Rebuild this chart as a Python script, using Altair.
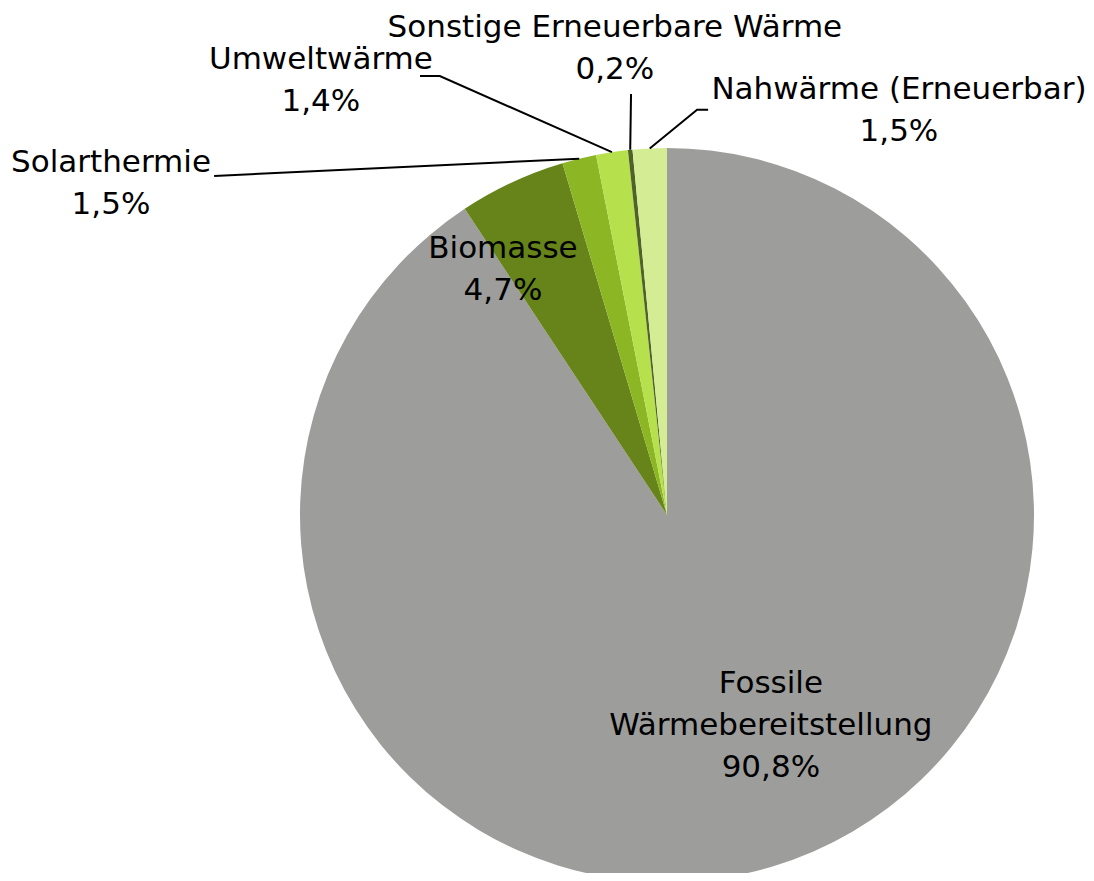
import math
import altair as alt
import pandas as pd

# ---- data ----
categories = ["Fossile Wärmebereitstellung", "Biomasse", "Solarthermie",
              "Umweltwärme", "Sonstige Erneuerbare Wärme", "Nahwärme (Erneuerbar)"]
values = [90.8, 4.7, 1.5, 1.4, 0.2, 1.5]
value_labels = ["90,8%", "4,7%", "1,5%", "1,4%", "0,2%", "1,5%"]
label_lines = [["Fossile", "Wärmebereitstellung"], ["Biomasse"], ["Solarthermie"],
               ["Umweltwärme"], ["Sonstige Erneuerbare Wärme"], ["Nahwärme (Erneuerbar)"]]
colors = ["#9d9d9c", "#668419", "#8cb623", "#b6e04c", "#4f6228", "#d4ec94"]

# ---- layout (in pie-radius units, relative to pie centre; y of first text line) ----
W, H = 1078, 865
CX, CY, R = 659, 507, 367
label_pos = [(0.283, -0.4605), (-0.447, 0.7248), (-1.515, 0.959),
             (-0.943, 1.2398), (-0.142, 1.328), (0.632, 1.158)]
# leader line bends (outside point(s)), None = no leader
leader_bends = [None, None, [(-1.234, 0.924)], [(-0.619, 1.196), (-0.673, 1.196)],
                [(-0.098, 1.147)], [(0.082, 1.104), (0.112, 1.104)]]

total = sum(values)
pie_df = pd.DataFrame({"cat": categories, "val": values, "idx": range(len(values))})

# labels
lab_rows = []
for i, cat in enumerate(categories):
    lines = label_lines[i] + [value_labels[i]]
    lab_rows.append({"cat": cat, "u": label_pos[i][0], "v": label_pos[i][1],
                     "txt": "\n".join(lines)})
lab_df = pd.DataFrame(lab_rows)

# leader lines: start at pie edge at slice mid-angle
line_rows = []
cum = 0.0
for i, cat in enumerate(categories):
    mid = 2 * math.pi * (cum + values[i] / 2) / total
    cum += values[i]
    if leader_bends[i] is None:
        continue
    pts = [(math.sin(mid), math.cos(mid))] + leader_bends[i]
    for k, (u, v) in enumerate(pts):
        line_rows.append({"cat": cat, "k": k, "u": u, "v": v})
line_df = pd.DataFrame(line_rows)

xdom = [-CX / R, (W - CX) / R]
ydom = [-(H - CY) / R, CY / R]
xs = alt.Scale(domain=xdom, nice=False, zero=False)
ys = alt.Scale(domain=ydom, nice=False, zero=False)

pie = alt.Chart(pie_df).mark_arc(outerRadius=R, stroke=None).encode(
    theta=alt.Theta("val:Q", stack=True),
    order=alt.Order("idx:Q"),
    color=alt.Color("cat:N", scale=alt.Scale(domain=categories, range=colors), legend=None),
    x=alt.value(CX),
    y=alt.value(CY),
)

leaders = alt.Chart(line_df).mark_line(color="black", strokeWidth=2).encode(
    x=alt.X("u:Q", scale=xs, axis=None),
    y=alt.Y("v:Q", scale=ys, axis=None),
    detail="cat:N",
    order="k:Q",
)

labels = alt.Chart(lab_df).mark_text(
    font="DejaVu Sans", fontSize=31, color="black", align="center",
    baseline="middle", lineBreak="\n", lineHeight=42,
).encode(
    x=alt.X("u:Q", scale=xs, axis=None),
    y=alt.Y("v:Q", scale=ys, axis=None),
    text="txt:N",
)

chart = alt.layer(pie, leaders, labels).properties(
    width=W, height=H, padding=0, background="white",
    autosize=alt.AutoSizeParams(type="none")
).configure_view(stroke=None, strokeWidth=0)

chart.save("out.html", embed_options={"renderer": "svg", "actions": False})
